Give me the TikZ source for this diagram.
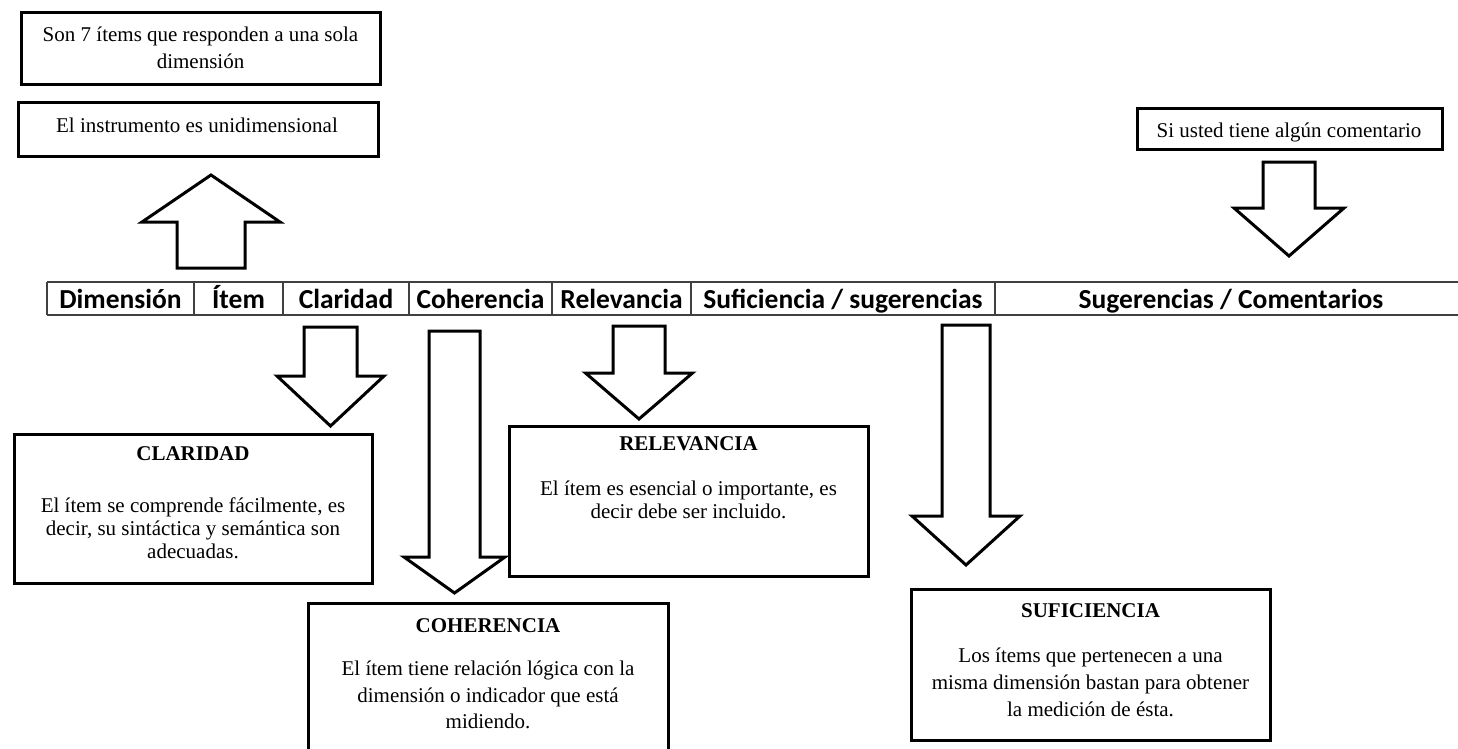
\documentclass[tikz,border=0pt]{standalone}
\usepackage{fontspec}
\setmainfont{Liberation Serif}
\newfontfamily\hdrfont{Carlito}
\newcommand\BlockArrow[7]{% name, cx, shaft half, head half, base y, head-base y, tip y
  \coordinate (#1) at (#2,#7);
  \draw[blk] (#2-#3,#5) -- (#2+#3,#5) -- (#2+#3,#6) -- (#2+#4,#6) -- (#1) -- (#2-#4,#6) -- (#2-#3,#6) -- cycle;}
\begin{document}
\begin{tikzpicture}[x=1pt,y=-1pt,
  box/.style={draw, line width=3pt, inner sep=0pt},
  blk/.style={draw, line width=3pt, fill=white, line join=miter},
  txt/.style={anchor=base, inner sep=0pt, font=\fontsize{21}{25}\selectfont},
  ttl/.style={anchor=base, inner sep=0pt, font=\fontsize{21}{25}\selectfont\bfseries},
  hdr/.style={anchor=base, inner sep=0pt, font=\hdrfont\bfseries\fontsize{27.5}{30}\selectfont},
  grid/.style={line width=1.5pt, draw=black!75}]
\useasboundingbox (0,0) rectangle (1458,749);
\clip (0,0) rectangle (1458,749);

% top-left boxes
\node[box, minimum width=359pt, minimum height=72pt] (b1) at (200.5,49) {};
\node[txt] (b1a) at (200.5,42) {Son 7 ítems que responden a una sola};
\node[txt] (b1b) at (200.5,69) {dimensión};
\node[box, minimum width=360pt, minimum height=53pt] (b2) at (198,129.5) {};
\node[txt] (b2a) at (197,132) {El instrumento es unidimensional};

% top-right box
\node[box, minimum width=305pt, minimum height=40pt] (tr) at (1289.5,129) {};
\node[txt] (tra) at (1289,138) {Si usted tiene algún comentario};

% header row
\coordinate (hl) at (47,282);
\coordinate (hr) at (1467,282);
\draw[grid] (47,282) -- (1467,282) (47,315) -- (1467,315);
\foreach \xx in {47,194,283,409,552,691,995,1467}
  \draw[grid] (\xx,282) -- (\xx,315);
\node[hdr] (h1) at (120.5,308) {Dimensión};
\node[hdr] (h2) at (238.5,308) {Ítem};
\node[hdr] (h3) at (346,308) {Claridad};
\node[hdr] (h4) at (480.5,308) {Coherencia};
\node[hdr] (h5) at (621.5,308) {Relevancia};
\node[hdr] (h6) at (843,308) {Suficiencia / sugerencias};
\node[hdr] (h7) at (1231,308) {Sugerencias / Comentarios};

% block arrows
\BlockArrow{aup}{211}{34}{69}{268}{222}{175}
\BlockArrow{atr}{1289}{26}{55}{162}{208}{256}
\BlockArrow{acl}{330.5}{26.5}{53.5}{327}{376}{426}
\BlockArrow{are}{639}{26}{53.5}{326}{373}{419}
\BlockArrow{asu}{966}{24}{54}{325}{516}{565}

% Claridad box
\node[box, minimum width=358pt, minimum height=149pt] (cl) at (193,508.5) {};
\node[ttl] (clt) at (193,460) {CLARIDAD};
\node[txt] (cl1) at (193,512) {El ítem se comprende fácilmente, es};
\node[txt] (cl2) at (193,535) {decir, su sintáctica y semántica son};
\node[txt] (cl3) at (193,558) {adecuadas.};

% Relevancia box
\node[box, minimum width=359pt, minimum height=150pt] (re) at (688.5,501) {};
\node[ttl] (ret) at (688.5,450) {RELEVANCIA};
\node[txt] (re1) at (688.5,495) {El ítem es esencial o importante, es};
\node[txt] (re2) at (688.5,518) {decir debe ser incluido.};

% Coherencia arrow (drawn over neighbours)
\BlockArrow{aco}{454.5}{25.5}{50.5}{331}{557}{593}

% Coherencia box
\node[box, minimum width=360pt, minimum height=167pt] (co) at (488,686.5) {};
\node[ttl] (cot) at (488,632) {COHERENCIA};
\node[txt] (co1) at (488,675) {El ítem tiene relación lógica con la};
\node[txt] (co2) at (488,702) {dimensión o indicador que está};
\node[txt] (co3) at (488,728) {midiendo.};

% Suficiencia box
\node[box, minimum width=359pt, minimum height=151pt] (su) at (1090.5,664.5) {};
\node[ttl] (sut) at (1090.5,617) {SUFICIENCIA};
\node[txt] (su1) at (1090.5,662) {Los ítems que pertenecen a una};
\node[txt] (su2) at (1090.5,689) {misma dimensión bastan para obtener};
\node[txt] (su3) at (1090.5,716) {la medición de ésta.};
\end{tikzpicture}
\end{document}
